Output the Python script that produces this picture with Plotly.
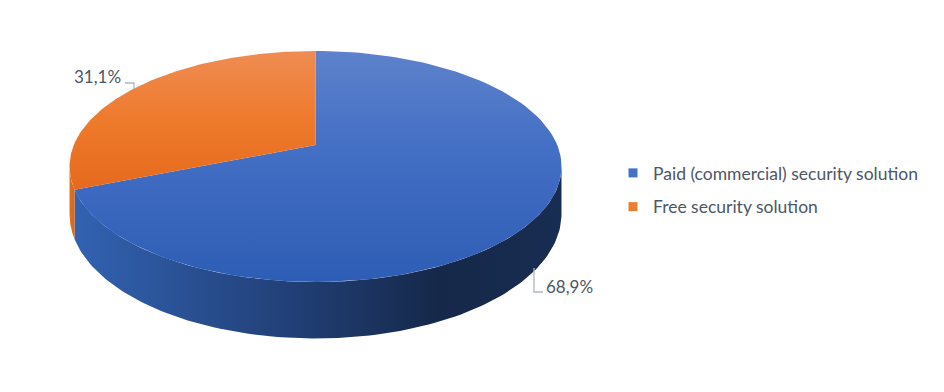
import math
import plotly.graph_objects as go

# ---- data ----
categories = ["Paid (commercial) security solution", "Free security solution"]
values = [68.9, 31.1]

# ---- style / layout constants ----
W, H_PX = 944, 392
CX, CY0 = 315.5, 145.0      # projected centre of the top face
K = 241.7                   # horizontal radius factor
B = -84.5                   # vertical radius factor
C = 0.186                   # perspective factor
DEPTH = 46.0                # thickness of the pie

top_scales = [
    [[0, "#5E82CB"], [0.4, "#4470C5"], [1, "#2E5DB5"]],
    [[0, "#EF8C52"], [0.5, "#EE7A2C"], [1, "#E66A1D"]],
]
side_scales = [
    [[0, "#3262B2"], [0.45, "#213F76"], [0.75, "#152849"], [1, "#182D52"]],
    [[0, "#E27020"], [1, "#D8661A"]],
]
legend_colors = ["#4472C4", "#ED7D31"]
text_color = "#4D5666"
font_family = "Lato, 'Open Sans', sans-serif"
FS = 17.5


def proj(a_deg, z):
    """a_deg: clockwise angle from 12 o'clock, z: 0 top face, 1 bottom face"""
    t = math.radians(90.0 - a_deg)
    u, v = math.cos(t), math.sin(t)
    d = 1 + C * v
    x = CX + K * u / d
    y = (CY0 + B * v) / d + z * DEPTH / d
    return x, y


def arc(a0, a1, z, n=120):
    pts = [proj(a0 + (a1 - a0) * i / n, z) for i in range(n + 1)]
    return [p[0] for p in pts], [p[1] for p in pts]


total = sum(values)
starts, ends = [], []
acc = 0.0
for v in values:
    starts.append(acc)
    acc += v / total * 360.0
    ends.append(acc)

tang = math.degrees(math.asin(C))
vis0, vis1 = 90 + tang, 270 - tang

fig = go.Figure()

# sides
for i in range(len(values)):
    s0, s1 = max(starts[i], vis0), min(ends[i], vis1)
    if s1 <= s0:
        continue
    xt, yt = arc(s0, s1, 0)
    xb, yb = arc(s0, s1, 1)
    xs = xt + xb[::-1] + [xt[0]]
    ys = yt + yb[::-1] + [yt[0]]
    fig.add_trace(go.Scatter(
        x=xs, y=ys, mode="lines", fill="toself", line=dict(width=0),
        fillgradient=dict(type="horizontal", colorscale=side_scales[i],
                          start=min(xs), stop=max(xs)),
        showlegend=False, hoverinfo="skip"))

# top faces
for i in range(len(values)):
    xa, ya = arc(starts[i], ends[i], 0)
    xs = [CX] + xa + [CX]
    ys = [CY0] + ya + [CY0]
    fig.add_trace(go.Scatter(
        x=xs, y=ys, mode="lines", fill="toself", line=dict(width=0),
        fillgradient=dict(type="vertical", colorscale=top_scales[i],
                          start=min(ys), stop=max(ys)),
        name=categories[i], showlegend=False,
        hovertemplate=f"{categories[i]}: {values[i]}%<extra></extra>"))

# legend entries
for i, cat in enumerate(categories):
    fig.add_trace(go.Scatter(
        x=[None], y=[None], mode="markers", name=cat,
        marker=dict(symbol="square", size=9, color=legend_colors[i]),
        legendgroup=f"g{i}", showlegend=True))


def fmt(v):
    return f"{v:.1f}".replace(".", ",") + "%"


# data labels (positions are layout choices)
label_pos = [(569, 286), (97, 76)]
for i in range(len(values)):
    fig.add_annotation(x=label_pos[i][0], y=label_pos[i][1], text=fmt(values[i]),
                       showarrow=False, xanchor="center", yanchor="middle",
                       font=dict(family=font_family, size=FS - 0.5, color=text_color))

lead = "#AEB6C0"
fig.add_shape(type="path", path="M 534 268 V 292 H 543", line=dict(color=lead, width=1.3),
              xref="x", yref="y")
fig.add_shape(type="path", path="M 125 83 H 134 V 89", line=dict(color=lead, width=1.3),
              xref="x", yref="y")

fig.update_layout(
    width=W, height=H_PX, margin=dict(l=0, r=0, t=0, b=0),
    paper_bgcolor="white", plot_bgcolor="white",
    xaxis=dict(range=[0, W], visible=False, fixedrange=True),
    yaxis=dict(range=[H_PX, 0], visible=False, fixedrange=True),
    legend=dict(x=613 / W, y=1 - 155 / H_PX, xanchor="left", yanchor="top",
                font=dict(family=font_family, size=FS, color=text_color),
                traceorder="grouped", tracegroupgap=8, bgcolor="rgba(0,0,0,0)"),
    showlegend=True,
)

fig.write_html("out.html")
